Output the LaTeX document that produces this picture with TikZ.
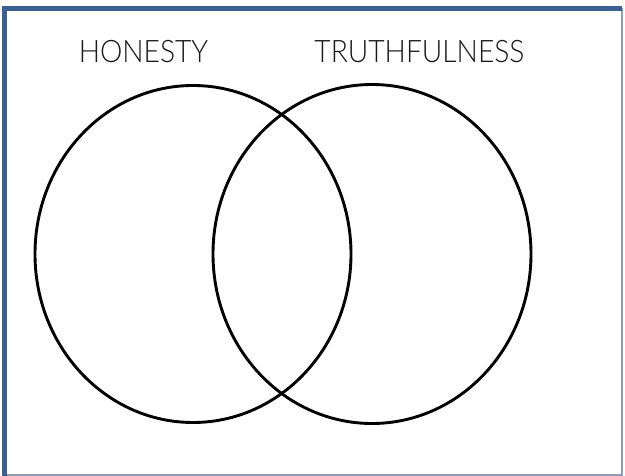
\documentclass[tikz,border=0pt]{standalone}
\usepackage{fontspec}
\usetikzlibrary{positioning, shapes.geometric}
\newfontfamily\vennfont{Lato Light}
\definecolor{frameblue}{HTML}{3C5F91}
\definecolor{framegray}{HTML}{8E9DB5}
\newcommand{\setname}[1]{\scalebox{0.91}[1]{#1}}

\begin{document}
\begin{tikzpicture}[x=1pt, y=-1pt,
    set/.style={draw=black, line width=2.9pt, ellipse, inner sep=0pt},
    setlabel/.style={font=\vennfont\fontsize{31}{34}\selectfont, text=black!90, inner sep=0pt}]
  \useasboundingbox (0,0) rectangle (625,476);
  % frame
  \draw[framegray, line width=1.2pt] (4,8.5) -- (622,8.5) -- (622,475) -- (4,475);
  \draw[frameblue, line width=5pt] (4,476) -- (4,8.5) -- (622,8.5);
  % sets
  \node[set, minimum width=316pt, minimum height=337pt] (honesty) at (193,254) {};
  \node[set, minimum width=318pt, minimum height=339pt] (truth) at (372,254) {};
  % labels
  \node[setlabel] (honestylabel) at (143.5,51.5) {\setname{HONESTY}};
  \node[setlabel] (truthlabel) at (419.5,51.5) {\setname{TRUTHFULNESS}};
\end{tikzpicture}
\end{document}
